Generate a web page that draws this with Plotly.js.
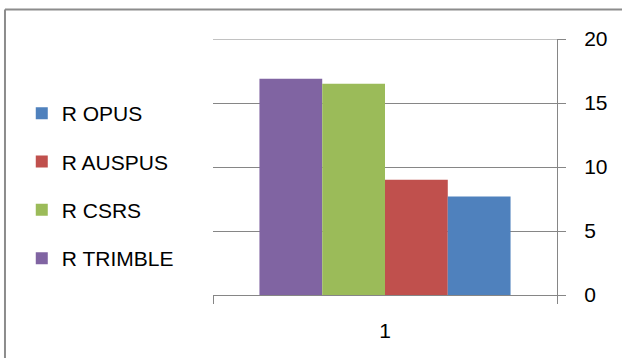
<!DOCTYPE html>
<html>
<head>
<meta charset="utf-8">
<script src="https://cdn.plot.ly/plotly-3.0.1.min.js"></script>
<style>html,body{margin:0;padding:0;background:#fff;}#chart{width:622px;height:358px;}</style>
</head>
<body>
<div id="chart"></div>
<script>
const categories = ['1'];
const seriesNames = ['R OPUS', 'R AUSPUS', 'R CSRS', 'R TRIMBLE'];
const seriesValues = [[7.7], [9.0], [16.5], [16.9]];
const seriesColors = ['#4F81BD', '#C0504D', '#9BBB59', '#8064A2'];
const yTicks = [0, 5, 10, 15, 20];
const yMax = 20;

// Excel draws series in reverse order on the plot (TRIMBLE leftmost)
const traces = [];
for (let i = seriesNames.length - 1; i >= 0; i--) {
  traces.push({
    type: 'bar',
    name: seriesNames[i],
    x: categories,
    y: seriesValues[i],
    marker: {color: seriesColors[i]},
    legendgroup: 'g' + i,
    legendrank: i + 1,
    hoverinfo: 'none'
  });
}

const grey = '#868686';
const layout = {
  width: 622, height: 358,
  margin: {l: 213, r: 65, t: 39, b: 63},
  paper_bgcolor: '#ffffff', plot_bgcolor: '#ffffff',
  font: {family: 'Liberation Sans, Arial, sans-serif', size: 21, color: '#000000'},
  barmode: 'group',
  bargap: 0.27,
  bargroupgap: 0,
  showlegend: true,
  legend: {
    traceorder: 'grouped',
    xref: 'container', yref: 'container',
    x: 0.035, y: 0.74, xanchor: 'left', yanchor: 'top',
    tracegroupgap: 18,
    font: {size: 21, family: 'Liberation Sans, Arial, sans-serif'},
    bgcolor: 'rgba(0,0,0,0)'
  },
  xaxis: {
    type: 'category',
    showgrid: false,
    showline: true, linecolor: grey, linewidth: 1,
    ticks: 'outside', tickson: 'boundaries', ticklen: 8, tickcolor: grey, tickwidth: 1,
    ticklabelstandoff: 17,
    zeroline: false,
    fixedrange: true
  },
  yaxis: {
    side: 'right',
    range: [0, yMax],
    tickvals: yTicks,
    ticktext: yTicks.map(String),
    showgrid: true, gridcolor: grey, gridwidth: 1,
    showline: true, linecolor: grey, linewidth: 1,
    ticks: 'outside', ticklen: 8, tickcolor: grey, tickwidth: 1,
    ticklabelstandoff: 14,
    zeroline: false,
    fixedrange: true
  },
  shapes: [
    {type: 'line', xref: 'paper', yref: 'y', x0: 0, x1: 1, y0: yMax, y1: yMax,
     line: {color: grey, width: 1}},
    {type: 'line', xref: 'paper', yref: 'paper', x0: -0.6047, x1: 1.19, y0: 1.1152, y1: 1.1152,
     line: {color: '#8c8c8c', width: 2}},
    {type: 'line', xref: 'paper', yref: 'paper', x0: -0.6047, x1: -0.6047, y0: 1.1152, y1: -0.25,
     line: {color: '#8c8c8c', width: 2}}
  ]
};

Plotly.newPlot('chart', traces, layout, {staticPlot: true, displayModeBar: false});
</script>
</body>
</html>
